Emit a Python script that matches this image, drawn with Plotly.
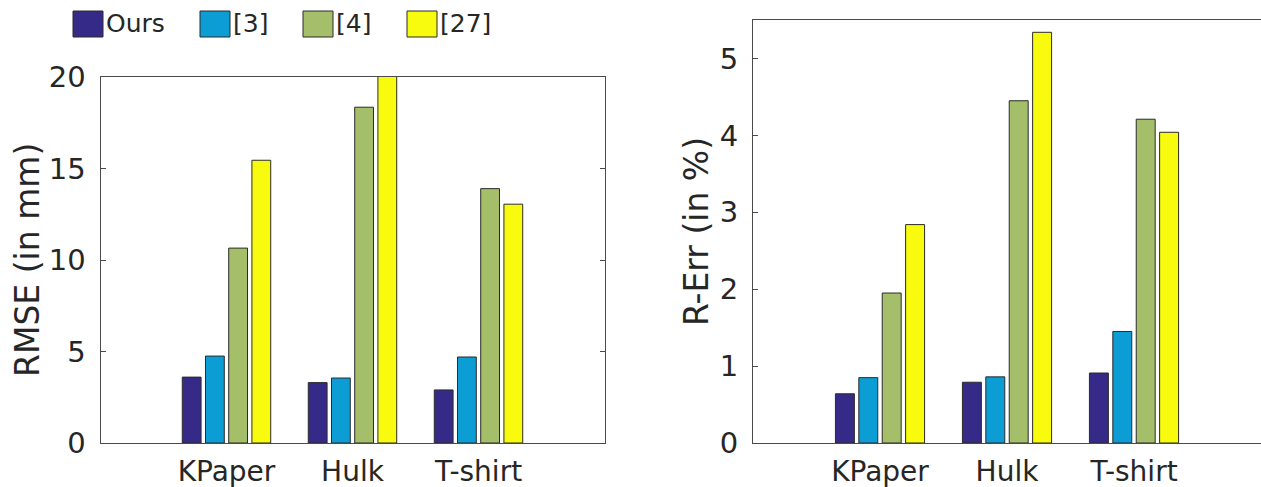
import plotly.graph_objects as go

# ---- data ----
categories = ["KPaper", "Hulk", "T-shirt"]
methods = ["Ours", "[3]", "[4]", "[27]"]

rmse_ours = [3.6, 3.3, 2.9]
rmse_3 = [4.75, 3.55, 4.7]
rmse_4 = [10.65, 18.35, 13.9]
rmse_27 = [15.45, 21.0, 13.05]

rerr_ours = [0.64, 0.79, 0.91]
rerr_3 = [0.85, 0.86, 1.45]
rerr_4 = [1.95, 4.45, 4.21]
rerr_27 = [2.84, 5.34, 4.04]

rmse_ticks = [0, 5, 10, 15, 20]
rerr_ticks = [0, 1, 2, 3, 4, 5]

# ---- style ----
colors = ["#352A87", "#0B9DD3", "#A5BE6A", "#F9FB0E"]
W, H = 1261, 487
FONT = "DejaVu Sans"
TXT = "#262626"
AX = "#4a4a4a"
EDGE = "#2b2b2b"

def px_x(p):
    return p / W

def px_y(p):
    return 1 - p / H

xpos = list(range(1, len(categories) + 1))

fig = go.Figure()
rmse_series = [rmse_ours, rmse_3, rmse_4, rmse_27]
rerr_series = [rerr_ours, rerr_3, rerr_4, rerr_27]
for name, col, vals in zip(methods, colors, rmse_series):
    fig.add_trace(go.Bar(x=xpos, y=vals, name=name, marker=dict(color=col, line=dict(color=EDGE, width=1)),
                         xaxis="x", yaxis="y", showlegend=False))
for name, col, vals in zip(methods, colors, rerr_series):
    fig.add_trace(go.Bar(x=xpos, y=vals, name=name, marker=dict(color=col, line=dict(color=EDGE, width=1)),
                         xaxis="x2", yaxis="y2", showlegend=False))

tickfont = dict(family=FONT, size=29, color=TXT)
xtickfont = dict(family=FONT, size=28, color=TXT)

xcommon = dict(range=[0, 4], tickvals=xpos, ticktext=categories, ticks="", showline=True,
               linecolor=AX, linewidth=1, showgrid=False, zeroline=False, tickfont=xtickfont,
               ticklabelstandoff=3, fixedrange=True, automargin=False)

ycommon = dict(ticks="inside", ticklen=5, tickcolor=AX, showgrid=False, zeroline=False,
               tickfont=tickfont, ticklabelstandoff=8, automargin=False, fixedrange=True)

fig.update_layout(
    width=W, height=H,
    margin=dict(l=0, r=0, t=0, b=0, pad=0, autoexpand=False),
    paper_bgcolor="white", plot_bgcolor="white",
    barmode="group", bargap=0.263, bargroupgap=0.19,
    showlegend=False,
    xaxis=dict(domain=[px_x(100.5), px_x(604.5)], anchor="y", mirror=True, **xcommon),
    yaxis=dict(domain=[px_y(443), px_y(77)], anchor="x", range=[0, 20], tickvals=rmse_ticks,
               showline=True, linecolor=AX, linewidth=1, mirror="ticks", **ycommon),
    xaxis2=dict(domain=[px_x(753), 1.0], anchor="y2", mirror=True, **xcommon),
    yaxis2=dict(domain=[px_y(443), px_y(20)], anchor="x2", range=[0, 5.5], tickvals=rerr_ticks,
                showline=True, linecolor=AX, linewidth=1, mirror=False, **ycommon),
    yaxis3=dict(overlaying="y2", anchor="x2", side="right", range=[0, 5.5], tickvals=rerr_ticks,
                showline=False, showticklabels=False, **ycommon),
)

# y-axis titles
fig.add_annotation(text="RMSE (in mm)", x=px_x(27), y=px_y(260), xref="paper", yref="paper",
                   textangle=-90, showarrow=False, xanchor="center", yanchor="middle",
                   font=dict(family=FONT, size=33, color=TXT))
fig.add_annotation(text="R-Err (in %)", x=px_x(697), y=px_y(232), xref="paper", yref="paper",
                   textangle=-90, showarrow=False, xanchor="center", yanchor="middle",
                   font=dict(family=FONT, size=33, color=TXT))

# legend (manual, MATLAB-style large swatches)
swatch_left = [73, 200, 303, 407]
for name, col, x0 in zip(methods, colors, swatch_left):
    fig.add_shape(type="rect", xref="paper", yref="paper",
                  x0=px_x(x0), x1=px_x(x0 + 30), y0=px_y(37), y1=px_y(11),
                  fillcolor=col, line=dict(color=EDGE, width=1))
    fig.add_annotation(text=name, x=px_x(x0 + 31), y=px_y(24), xref="paper", yref="paper",
                       showarrow=False, xanchor="left", yanchor="middle",
                       font=dict(family=FONT, size=25, color=TXT))

fig.write_html("out.html")
